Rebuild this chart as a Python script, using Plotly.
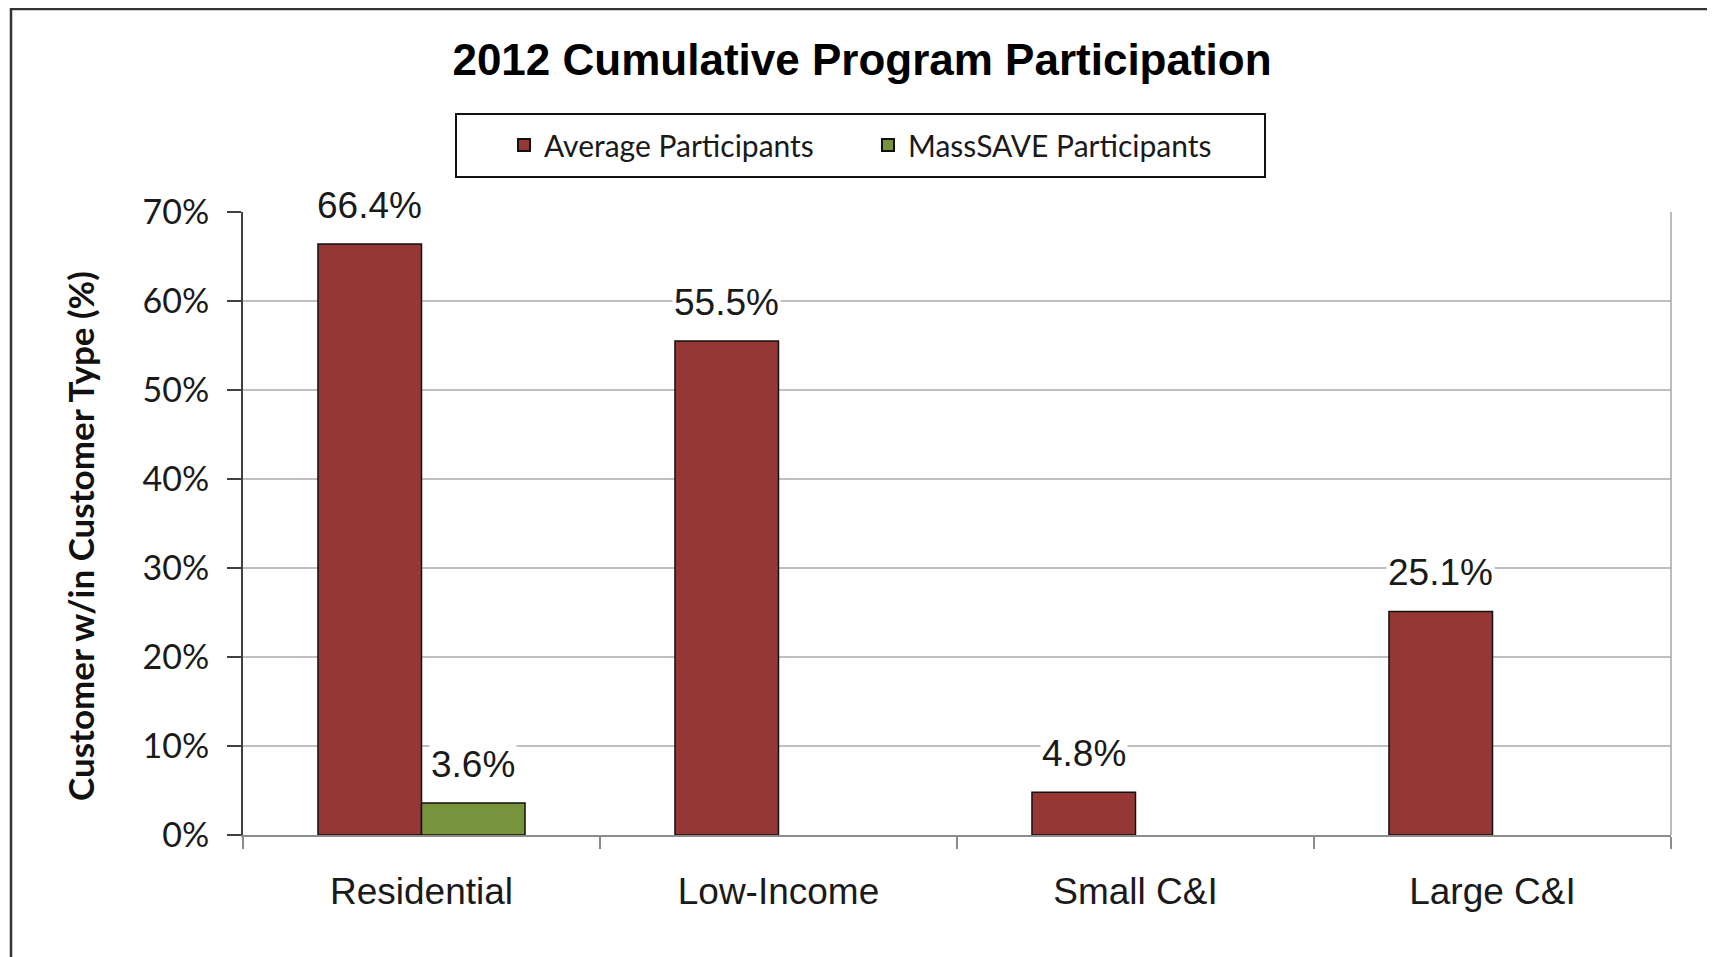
import plotly.graph_objects as go

categories = ["Residential", "Low-Income", "Small C&I", "Large C&I"]
avg_participants = [66.4, 55.5, 4.8, 25.1]
masssave_participants = [3.6, None, None, None]
y_ticks = [0, 10, 20, 30, 40, 50, 60, 70]
y_tick_labels = [f"{v}%" for v in y_ticks]

OFF = 8  # page body margin in the browser
W, H = 1715 - OFF, 957 - OFF
L, R, T, B = 243 - OFF, 1671 - OFF, 212 - OFF, 835 - OFF  # plot area in figure pixels
pw, ph = R - L, B - T

def px_x(x):
    return (x - OFF - L) / pw

def px_y(y):
    return (B - (y - OFF)) / ph

RED = "#953735"
GREEN = "#77933C"
BARGAP = 0.42
half = (1 - BARGAP) / 4
LABEL_FONT = dict(family="Liberation Sans", size=37, color="#1a1a1a")

fig = go.Figure()
fig.add_trace(go.Bar(name="Average Participants", x=categories, y=avg_participants,
                     marker=dict(color=RED, line=dict(color="#111111", width=1.5))))
fig.add_trace(go.Bar(name="MassSAVE Participants", x=categories, y=masssave_participants,
                     marker=dict(color=GREEN, line=dict(color="#111111", width=1.5))))

annotations = []
for i, v in enumerate(avg_participants):
    if v is not None:
        annotations.append(dict(x=i - half, y=v, xref="x", yref="y", text=f"{v:.1f}%",
                                showarrow=False, yshift=39, bgcolor="white", font=LABEL_FONT))
for i, v in enumerate(masssave_participants):
    if v is not None:
        annotations.append(dict(x=i + half, y=v, xref="x", yref="y", text=f"{v:.1f}%",
                                showarrow=False, yshift=38, bgcolor="white", font=LABEL_FONT))

annotations.append(dict(x=px_x(80), y=px_y(536), xref="paper", yref="paper",
                        xanchor="center", yanchor="middle",
                        text="<b>Customer w/in Customer Type (%)</b>", textangle=-90,
                        showarrow=False, font=dict(family="Lato", size=35, color="#111111")))

shapes = [
    # outer chart border
    dict(type="rect", xref="paper", yref="paper", x0=px_x(11), x1=px_x(1711),
         y0=px_y(990), y1=px_y(9), line=dict(color="#333333", width=2.5), layer="below"),
    # plot area right frame
    dict(type="line", xref="paper", yref="paper", x0=1, x1=1, y0=0, y1=1,
         line=dict(color="#A6A6A6", width=1.5)),
    # legend box
    dict(type="rect", xref="paper", yref="paper", x0=px_x(456), x1=px_x(1265),
         y0=px_y(177), y1=px_y(114), line=dict(color="#111111", width=2)),
]

fig.update_layout(
    width=W, height=H,
    margin=dict(l=L, r=W - R, t=T, b=H - B, autoexpand=False),
    paper_bgcolor="white", plot_bgcolor="white",
    barmode="group", bargap=BARGAP, bargroupgap=0,
    title=dict(text="<b>2012 Cumulative Program Participation</b>", x=(862 - OFF) / W, xanchor="center",
               y=1 - (60 - OFF) / H, yanchor="middle",
               font=dict(family="Liberation Sans", size=44, color="#000000")),
    legend=dict(orientation="h", x=px_x(504), y=px_y(145), xanchor="left", yanchor="middle",
                font=dict(family="Lato", size=30, color="#1a1a1a"), bgcolor="rgba(0,0,0,0)",
                borderwidth=0, entrywidth=319, itemsizing="constant"),
    xaxis=dict(type="category", showline=True, linecolor="#8C8C8C", linewidth=2,
               ticks="outside", tickson="boundaries", ticklen=12, tickcolor="#8C8C8C", tickwidth=1.5,
               ticklabelstandoff=23,
               tickfont=dict(family="Liberation Sans", size=37, color="#1a1a1a"),
               showgrid=False),
    yaxis=dict(range=[0, 70], tickvals=y_ticks, ticktext=y_tick_labels,
               showline=True, linecolor="#404040", linewidth=2,
               ticks="outside", ticklen=14, tickcolor="#404040", tickwidth=2,
               ticklabelstandoff=11,
               tickfont=dict(family="Lato", size=34, color="#1a1a1a"),
               showgrid=True, gridcolor="#C0C0C0", gridwidth=1.5, zeroline=False),
    annotations=annotations,
    shapes=shapes,
    showlegend=True,
)

fig.write_html("out.html")
